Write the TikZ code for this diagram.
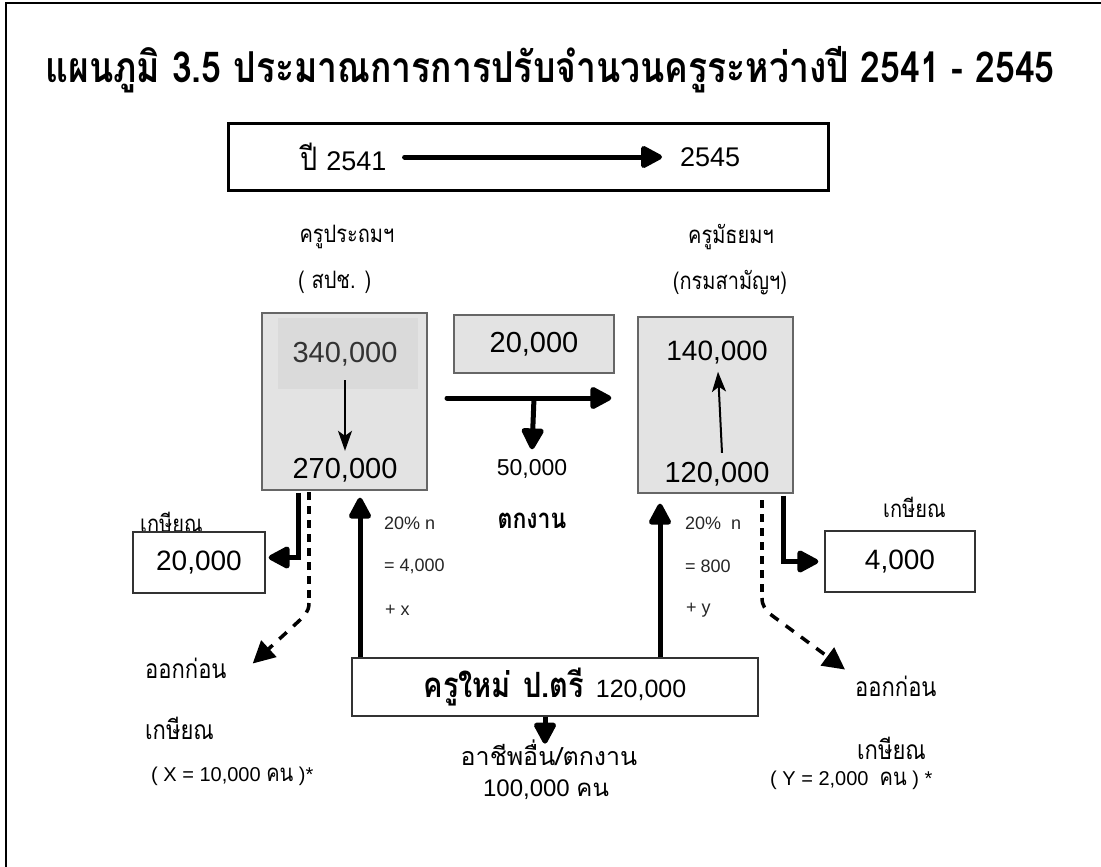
\documentclass[tikz,border=0pt]{standalone}
\usepackage{fontspec}
\setmainfont{Liberation Sans}
\newfontfamily\thai[Script=Thai]{Loma}
\newcommand\thtxt[1]{{\thai\scalebox{1}[1.2]{#1}}}
\newcommand\thflat[1]{{\thai #1}}
\usetikzlibrary{arrows.meta}
\definecolor{boxgray}{HTML}{E3E3E3}
\definecolor{innergray}{HTML}{DADADA}
\definecolor{edgegray}{HTML}{666666}
\tikzset{
  txt/.style={inner sep=0pt, font=\fontsize{20}{22}\selectfont},
  lbl/.style={inner sep=0pt, anchor=west, font=\fontsize{22}{24}\selectfont},
  note/.style={inner sep=0pt, anchor=west, font=\fontsize{20}{22}\selectfont},
  small/.style={inner sep=0pt, anchor=west, font=\fontsize{18}{20}\selectfont, text=black!85},
  num/.style={inner sep=0pt, font=\fontsize{29}{32}\selectfont},
  graybox/.style={draw=edgegray, line width=1.3pt, fill=boxgray, inner sep=0pt},
  whitebox/.style={draw=black!80, line width=1.3pt, fill=white, inner sep=0pt},
  bigarrow/.style={line width=5pt, line cap=round, -{Triangle[length=24pt,width=24pt,round]}},
  thinarrow/.style={line width=2pt, -{Stealth[length=20pt,width=14pt,inset=5pt]}},
  dotline/.style={line width=4pt, dash pattern=on 8pt off 6pt},
  dashdiag/.style={line width=3.5pt, dash pattern=on 10pt off 9pt, -{Triangle[length=22pt,width=22pt]}},
}
\begin{document}
\begin{tikzpicture}[x=1pt,y=-1pt]
\useasboundingbox (0,0) rectangle (1101,867);
\draw[line width=2pt] (6,867) -- (6,3) -- (1101,3);

% title
\node[inner sep=0pt, font=\fontsize{35.5}{40}\selectfont\bfseries] (title) at (550,70)
  {\thtxt{แผนภูมิ 3.5 ประมาณการการปรับจำนวนครูระหว่างปี 2541 - 2545}};

% year box
\node[draw, line width=3pt, minimum width=600pt, minimum height=67pt, inner sep=0pt] (year) at (528,156.5) {};
\node[inner sep=0pt, anchor=west, font=\fontsize{27}{29}\selectfont] (y1) at (300,157) {\thtxt{ปี}\hspace{9pt}2541};
\node[inner sep=0pt, anchor=west, font=\fontsize{27}{29}\selectfont] (y2) at (680,157) {2545};
\draw[bigarrow] ([xshift=18pt]y1.east) -- ([xshift=-18pt]y2.west);

% headers
\node[txt] (h1) at (347,237) {\thtxt{ครูประถมฯ}};
\node[txt, anchor=west] (h2) at (298,282) {\thtxt{( สปช. )}};
\node[txt] (h3) at (731,237) {\thtxt{ครูมัธยมฯ}};
\node[txt] (h4) at (730,283) {\thtxt{(กรมสามัญฯ)}};

% left gray box
\node[graybox, minimum width=165pt, minimum height=177pt] (L) at (344.5,401.5) {};
\node[fill=innergray, minimum width=140pt, minimum height=71pt, inner sep=0pt] (Lin) at (348,353.5) {};
\node[num, text=black!80] (l340) at (345,354) {340,000};
\node[num] (l270) at (345,470) {270,000};
\draw[thinarrow] ([yshift=-14pt]l340.south) -- ([yshift=7pt]l270.north);

% middle gray box
\node[graybox, minimum width=160pt, minimum height=58pt, font=\fontsize{29}{32}\selectfont] (M) at (534,344) {20,000};

% right gray box
\node[graybox, minimum width=155pt, minimum height=176pt] (R) at (715.5,405) {};
\node[num, font=\fontsize{28}{30}\selectfont] (r140) at (717,353) {140,000};
\node[num] (r120) at (717,474) {120,000};
\draw[thinarrow] ([xshift=5pt,yshift=9pt]r120.north) -- ([xshift=1pt,yshift=-7pt]r140.south);

% horizontal flow
\coordinate (hs) at (447,398);
\coordinate (hb) at (534,398);
\node[num, font=\fontsize{23}{25}\selectfont] (n50) at (532,469) {50,000};
\node[inner sep=0pt, font=\fontsize{23}{25}\selectfont\bfseries] (tk) at (532,521) {\thtxt{ตกงาน}};
\draw[bigarrow] (hs) -- ([xshift=-26pt]R.west |- hs);
\draw[bigarrow, line cap=butt] (hb) -- ([yshift=10pt]n50.north);

% left retire
\node[txt, anchor=west] (lr) at (140,522) {\thtxt{เกษียณ}};
\node[whitebox, minimum width=132pt, minimum height=61pt, font=\fontsize{28}{30}\selectfont] (LB) at (199,562.5) {20,000};
\draw[bigarrow, line cap=butt] ([xshift=-46.5pt,yshift=-2pt]L.south) |- ([xshift=3pt,yshift=5pt]LB.east);

% right retire
\node[txt, anchor=west] (rr) at (883,507) {\thtxt{เกษียณ}};
\node[whitebox, minimum width=150pt, minimum height=61pt, font=\fontsize{28}{30}\selectfont] (RB) at (900,561.5) {4,000};
\draw[bigarrow, line cap=butt] ([xshift=68pt,yshift=-2pt]R.south) |- ([xshift=-6pt]RB.west);

% bottom box
\node[whitebox, minimum width=406pt, minimum height=58pt] (B) at (555,687)
  {{\fontsize{29}{32}\selectfont\bfseries\thtxt{ครูใหม่\hspace{12pt}ป.ตรี}}\hspace{12pt}{\fontsize{25}{27}\selectfont 120,000}};
\draw[bigarrow, line cap=butt] ([xshift=-195pt]B.north) -- ([xshift=15.5pt,yshift=-7pt]L.south);
\draw[bigarrow, line cap=butt] ([xshift=105pt]B.north) -- ([xshift=-55.5pt,yshift=-10pt]R.south);

\node[small] (p1) at (384,523) {20\% n};
\node[small] (p2) at (384,566) {= 4,000};
\node[small] (p3) at (385,610) {+ x};
\node[small] (q1) at (685,523) {20\%\ \ n};
\node[small] (q2) at (685,566) {= 800};
\node[small] (q3) at (686,610) {+ y};

% bottom centre
\node[txt, font=\fontsize{25}{27}\selectfont] (oc) at (549,753) {\thflat{อาชีพอื่น/ตกงาน}};
\node[txt, font=\fontsize{24}{26}\selectfont] (oc2) at (546,790) {100,000 \thflat{คน}};
\draw[bigarrow, line cap=butt] ([xshift=-10pt]B.south) -- ([xshift=-10pt,yshift=-27pt]B.south);

% left early retire
\node[lbl] (le1) at (145,668) {\thtxt{ออกก่อน}};
\node[lbl] (le2) at (145,728) {\thtxt{เกษียณ}};
\node[note] (le3) at (151,776) {( X = 10,000 \thtxt{คน} )*};
\coordinate (ld) at (309,492);
\coordinate (lk) at (309,603);
\draw[dotline] (ld) -- (lk);
\draw[dashdiag] (lk) .. controls (309,612) and (304,616) .. (300,620) -- ([xshift=26pt,yshift=-6pt]le1.north east);

% right early retire
\node[lbl] (re1) at (855,686) {\thtxt{ออกก่อน}};
\node[lbl] (re2) at (857,748) {\thtxt{เกษียณ}};
\node[note] (re3) at (770,780) {( Y = 2,000\ \ \thtxt{คน} ) *};
\coordinate (rd) at (762,500);
\coordinate (rk) at (762,598);
\draw[dotline] (rd) -- (rk);
\draw[dashdiag] (rk) .. controls (762,606) and (766,610) .. (770,614) -- ([xshift=-10pt,yshift=6pt]re1.north west);
\end{tikzpicture}
\end{document}
